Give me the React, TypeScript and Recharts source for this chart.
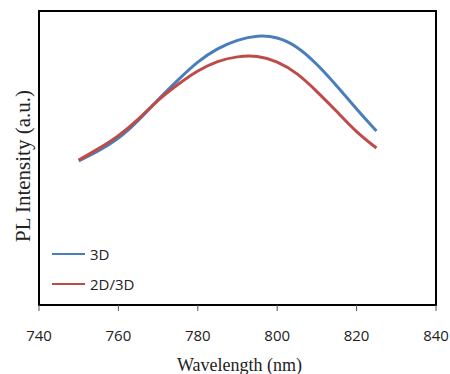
import React from "react";
import { LineChart, Line, XAxis, YAxis, ReferenceArea } from "recharts";

const wavelengths = [750, 755, 760, 765, 770, 775, 780, 785, 790, 795, 800, 805, 810, 815, 820, 825];
const pl3D = [49.0, 52.5, 56.8, 62.8, 69.8, 76.5, 82.6, 87.1, 90.0, 91.4, 90.8, 87.6, 81.8, 74.5, 66.7, 59.2];
const pl2D3D = [49.3, 53.2, 57.6, 63.2, 69.6, 75.0, 79.6, 82.8, 84.4, 84.5, 82.6, 78.6, 72.6, 65.8, 59.0, 53.4];
const xTicks = [740, 760, 780, 800, 820, 840];

const series = [
  { key: "d3", name: "3D", color: "#4a7ebb" },
  { key: "d2d3", name: "2D/3D", color: "#be4b48" },
];

const data = wavelengths.map((w, i) => ({ w, d3: pl3D[i], d2d3: pl2D3D[i] }));

const sans = "'Open Sans', 'Liberation Sans', sans-serif";
const serif = "'Liberation Serif', 'Times New Roman', serif";

const LegendBox = () => (
  <div
    style={{
      position: "absolute",
      left: 52,
      top: 239,
      fontFamily: sans,
      fontSize: 15,
      color: "#222",
      lineHeight: "30px",
    }}
  >
    {series.map((s) => (
      <div key={s.key} style={{ display: "flex", alignItems: "center", height: 30 }}>
        <span style={{ display: "inline-block", width: 33, height: 2, background: s.color, marginRight: 5 }} />
        {s.name}
      </div>
    ))}
  </div>
);

export default function App() {
  return (
    <div style={{ position: "absolute", left: 0, top: 0, width: 450, height: 374, background: "#fff" }}>
      <LineChart width={450} height={374} data={data} margin={{ top: 11, right: 14, left: 0, bottom: 9 }}>
        <XAxis
          dataKey="w"
          type="number"
          domain={[740, 840]}
          ticks={xTicks}
          tickSize={6}
          tickMargin={19}
          height={60}
          axisLine={{ stroke: "#000", strokeWidth: 2 }}
          tickLine={{ stroke: "#555" }}
          tick={{ fontFamily: sans, fontSize: 15, fill: "#222" }}
          label={{
            content: ({ viewBox }: any) => (
              <text
                x={viewBox.x + viewBox.width / 2 + 2}
                y={viewBox.y + 66}
                textAnchor="middle"
                fontFamily={serif}
                fontSize={18}
                fill="#222"
              >
                Wavelength (nm)
              </text>
            ),
          }}
        />
        <YAxis
          type="number"
          domain={[0, 100]}
          width={39}
          tick={false}
          tickLine={false}
          axisLine={false}
          label={{
            content: ({ viewBox }: any) => {
              const cx = viewBox.x + 23;
              const cy = viewBox.y + viewBox.height / 2 + 8;
              return (
                <text
                  x={cx}
                  y={cy}
                  transform={`rotate(-90 ${cx} ${cy})`}
                  textAnchor="middle"
                  dominantBaseline="central"
                  fontFamily={serif}
                  fontSize={21}
                  fill="#222"
                >
                  PL Intensity (a.u.)
                </text>
              );
            },
          }}
        />
        <ReferenceArea x1={740} x2={840} y1={0} y2={100} fill="none" stroke="#000" strokeWidth={2} ifOverflow="visible" />
        {series.map((s) => (
          <Line
            key={s.key}
            dataKey={s.key}
            name={s.name}
            type="natural"
            stroke={s.color}
            strokeWidth={3}
            dot={false}
            isAnimationActive={false}
          />
        ))}
      </LineChart>
      <LegendBox />
    </div>
  );
}
